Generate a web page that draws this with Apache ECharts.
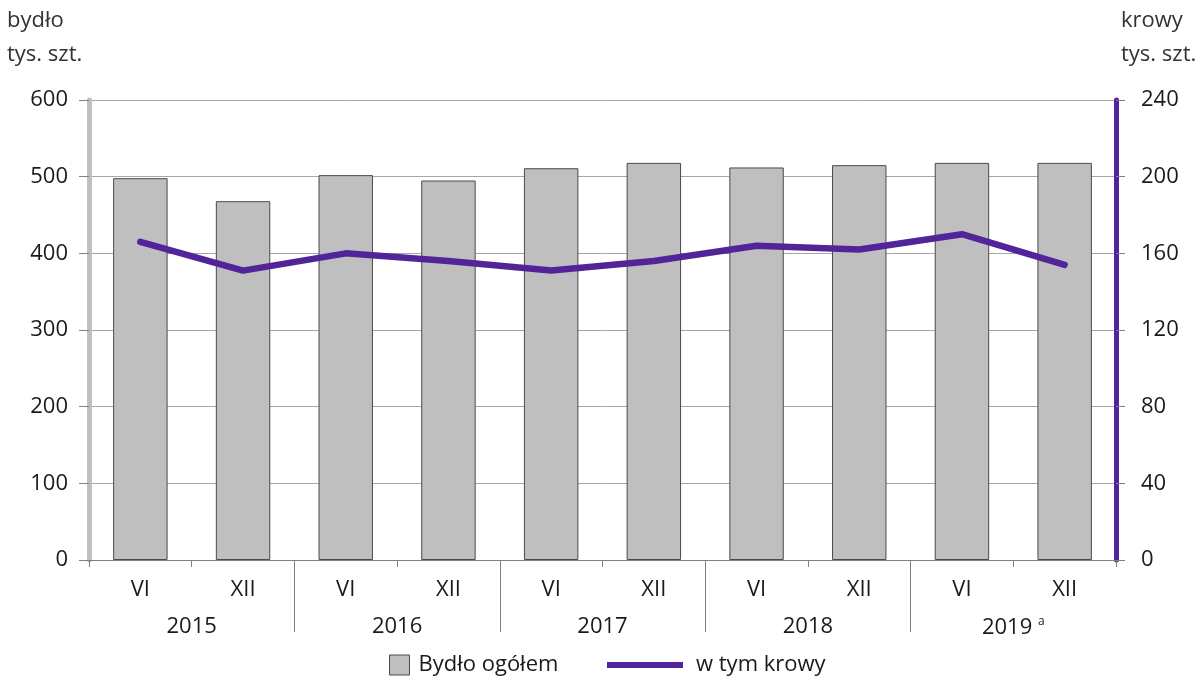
<!DOCTYPE html>
<html>
<head>
<meta charset="utf-8">
<script src="https://cdn.jsdelivr.net/npm/echarts@6/dist/echarts.min.js"></script>
<style>
html,body{margin:0;padding:0;background:#fff;}
#chart{width:1202px;height:679px;}
</style>
</head>
<body>
<div id="chart"></div>
<script>
const months = ['VI','XII','VI','XII','VI','XII','VI','XII','VI','XII'];
const years = ['2015','2016','2017','2018','2019'];
const yearNotes = ['','','','','a'];
const cattle = [498, 468, 502, 495, 511, 518, 512, 515, 518, 518];
const cows = [166, 151, 160, 156, 151, 156, 164, 162, 170, 154];
const leftTicks = [0, 600, 100];
const rightTicks = [0, 240, 40];

const FONT = '"Open Sans", "Noto Sans", sans-serif';
const TXT = '#1a1a1a';
const GRIDC = '#a6a6a6';
const PURPLE = '#52249a';
const FS = 22;
const perYear = months.length / years.length;
const sepValues = years.slice(1).map((_, i) => (i + 1) * perYear);

const chart = echarts.init(document.getElementById('chart'), null, {renderer: 'canvas'});
chart.setOption({
  animation: false,
  textStyle: {fontFamily: FONT},
  title: [
    {text: 'bydło\ntys. szt.', left: 7, top: 4, padding: 0,
     textStyle: {fontFamily: FONT, fontSize: 22, fontWeight: 'normal', color: '#333', lineHeight: 34}},
    {text: 'krowy\ntys. szt.', left: 1121, top: 4, padding: 0,
     textStyle: {fontFamily: FONT, fontSize: 22, fontWeight: 'normal', color: '#333', lineHeight: 34}}
  ],
  legend: [
    {data: ['Bydło ogółem'], left: 389, top: 654, padding: 0, icon: 'rect', itemWidth: 20, itemHeight: 20, itemGap: 10,
     itemStyle: {color: '#bfbfbf', borderColor: '#4a4a4a', borderWidth: 1},
     textStyle: {fontFamily: FONT, fontSize: 22, color: TXT, padding: [0, 0, 0, 4]}},
    {data: ['w tym krowy'], left: 607, top: 654, padding: 0, icon: 'rect', itemWidth: 76, itemHeight: 6,
     itemStyle: {color: PURPLE, borderWidth: 0},
     textStyle: {fontFamily: FONT, fontSize: 22, color: TXT, padding: [0, 0, 0, 8]}}
  ],
  grid: {left: 89, right: 86, top: 100, bottom: 119, containLabel: false},
  xAxis: [
    {type: 'category', data: months, position: 'bottom',
     axisLine: {show: true, lineStyle: {color: '#808080', width: 1}},
     axisTick: {show: true, length: 7, lineStyle: {color: '#808080'}},
     axisLabel: {margin: 19, fontSize: FS, color: TXT, fontFamily: FONT}},
    {type: 'category', data: years, position: 'bottom',
     axisLine: {show: false}, axisTick: {show: false},
     axisLabel: {margin: 56, fontSize: FS, color: TXT, fontFamily: FONT,
       formatter: (v, i) => yearNotes[i] ? v + ' {sup|' + yearNotes[i] + '}' : v,
       rich: {sup: {fontSize: 12, verticalAlign: 'top', padding: [0, 0, 12, 0], color: TXT, fontFamily: FONT}}}},
    {type: 'value', min: 0, max: months.length, position: 'bottom',
     axisLine: {show: false},
     axisTick: {show: true, length: 72, customValues: sepValues, lineStyle: {color: '#808080'}},
     axisLabel: {show: false}, splitLine: {show: false}}
  ],
  yAxis: [
    {type: 'value', min: leftTicks[0], max: leftTicks[1], interval: leftTicks[2], position: 'left',
     axisLine: {show: true, lineStyle: {color: '#c0c0c0', width: 5}},
     axisTick: {show: true, length: 10, lineStyle: {color: '#808080'}},
     axisLabel: {margin: 21, fontSize: FS, color: TXT, fontFamily: FONT},
     splitLine: {show: true, lineStyle: {color: GRIDC, width: 1}}},
    {type: 'value', min: rightTicks[0], max: rightTicks[1], interval: rightTicks[2], position: 'right',
     axisLine: {show: true, lineStyle: {color: PURPLE, width: 5}},
     axisTick: {show: true, length: 9, lineStyle: {color: '#808080'}},
     axisLabel: {margin: 25, fontSize: FS, color: TXT, fontFamily: FONT},
     splitLine: {show: false}}
  ],
  series: [
    {name: 'Bydło ogółem', type: 'bar', data: cattle, xAxisIndex: 0, yAxisIndex: 0, barWidth: '53%',
     itemStyle: {color: '#bfbfbf', borderColor: '#4a4a4a', borderWidth: 1}},
    {name: 'w tym krowy', type: 'line', data: cows, xAxisIndex: 0, yAxisIndex: 1,
     symbol: 'none', lineStyle: {color: PURPLE, width: 6.5, cap: 'round', join: 'round'},
     itemStyle: {color: PURPLE}}
  ]
});
</script>
</body>
</html>
